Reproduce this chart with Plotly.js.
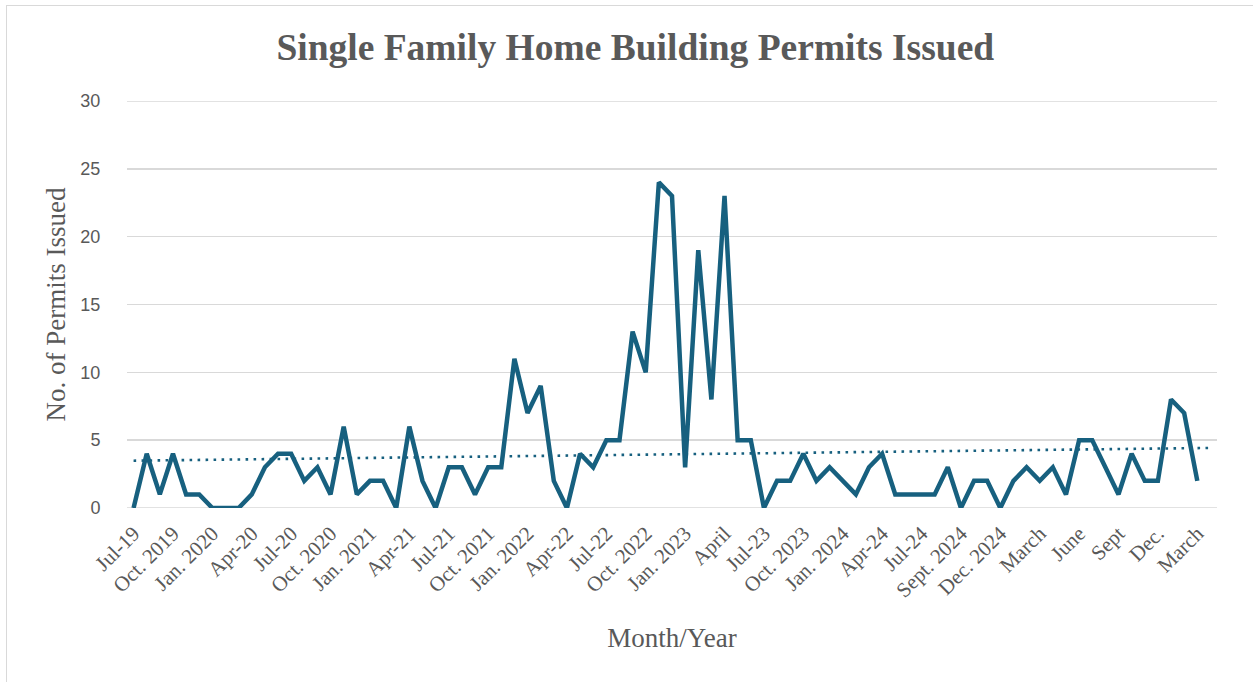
<!DOCTYPE html>
<html>
<head>
<meta charset="utf-8">
<script src="https://cdn.plot.ly/plotly-3.0.1.min.js"></script>
<style>
  html, body { margin: 0; padding: 0; background: #ffffff; }
  #wrap { position: relative; width: 1253px; height: 682px; overflow: hidden; }
  #chart { width: 1253px; height: 682px; }
  #frame { position: absolute; left: 6px; top: 5px; width: 1300px; height: 700px;
           border-left: 1.5px solid #d9d9d9; border-top: 1.5px solid #d9d9d9; pointer-events: none; }
</style>
</head>
<body>
<div id="wrap">
  <div id="chart"></div>
  <div id="frame"></div>
</div>
<script>
// Monthly single family home building permits issued (Jul 2019 onward)
const permits = [
  0, 4, 1, 4, 1, 1, 0, 0, 0, 1, 3, 4, 4, 2, 3, 1, 6, 1, 2, 2, 0, 6,
  2, 0, 3, 3, 1, 3, 3, 11, 7, 9, 2, 0, 4, 3, 5, 5, 13, 10, 24, 23, 3, 19,
  8, 23, 5, 5, 0, 2, 2, 4, 2, 3, 2, 1, 3, 4, 1, 1, 1, 1, 3, 0, 2,
  2, 0, 2, 3, 2, 3, 1, 5, 5, 3, 1, 4, 2, 2, 8, 7, 2
];

// Tick labels shown on the category axis (every third month)
const tickLabels = [
  "Jul-19", "Oct. 2019", "Jan. 2020", "Apr-20", "Jul-20", "Oct. 2020", "Jan. 2021",
  "Apr-21", "Jul-21", "Oct. 2021", "Jan. 2022", "Apr-22", "Jul-22", "Oct. 2022",
  "Jan. 2023", "April", "Jul-23", "Oct. 2023", "Jan. 2024", "Apr-24", "Jul-24",
  "Sept. 2024", "Dec. 2024", "March", "June", "Sept", "Dec.", "March"
];
const tickStep = 3;
const yMin = 0, yMax = 30;

const xIdx = permits.map((v, i) => i);
const tickVals = tickLabels.map((t, i) => i * tickStep);

// Linear trendline (least squares) over the series
const n = permits.length;
const mx = xIdx.reduce((a, b) => a + b, 0) / n;
const my = permits.reduce((a, b) => a + b, 0) / n;
let sxy = 0, sxx = 0;
for (let i = 0; i < n; i++) { sxy += (xIdx[i] - mx) * (permits[i] - my); sxx += (xIdx[i] - mx) ** 2; }
const slope = sxy / sxx;
const intercept = my - slope * mx;
const trendX = [0, n];
const trendY = trendX.map(x => intercept + slope * x);

const lineColor = "#17607f";
const textColor = "#595959";
const gridColor = "#d9d9d9";
const serif = "Liberation Serif, Times New Roman, serif";

const data = [
  {
    x: xIdx, y: permits, type: "scatter", mode: "lines",
    line: { color: lineColor, width: 4.5 },
    hoverinfo: "y", showlegend: false
  },
  {
    x: trendX, y: trendY, type: "scatter", mode: "lines",
    line: { color: lineColor, width: 2.6, dash: "2.6px,5.4px" },
    hoverinfo: "skip", showlegend: false
  }
];

// gridlines at the range ends (Plotly omits those at the plot edge)
const edgeGrid = [yMin, yMax].map(v => ({
  type: "line", xref: "paper", yref: "y", x0: 0, x1: 1, y0: v, y1: v,
  line: { color: gridColor, width: 1.5 }, layer: "below"
}));

const layout = {
  width: 1253, height: 682,
  paper_bgcolor: "#ffffff", plot_bgcolor: "#ffffff",
  margin: { l: 127, r: 36, t: 101, b: 174 },
  title: {
    text: "<b>Single Family Home Building Permits Issued</b>",
    font: { family: serif, size: 37.5, color: textColor },
    x: 0.507, xanchor: "center", xref: "container",
    y: 0.931, yanchor: "middle", yref: "container"
  },
  xaxis: {
    range: [-0.5, n + 0.5],
    tickmode: "array", tickvals: tickVals, ticktext: tickLabels,
    tickangle: -45,
    tickfont: { family: serif, size: 21, color: textColor },
    ticks: "outside", ticklen: 4, tickcolor: "rgba(0,0,0,0)",
    showgrid: false, zeroline: false, showline: false,
    title: {
      text: "Month/Year",
      font: { family: serif, size: 27, color: textColor },
      standoff: 26
    }
  },
  yaxis: {
    range: [yMin, yMax], dtick: 5, tick0: 0,
    tickfont: { family: "Liberation Sans, Arial, sans-serif", size: 18, color: textColor },
    ticks: "outside", ticklen: 22, tickcolor: "rgba(0,0,0,0)",
    showgrid: true, gridcolor: gridColor, gridwidth: 1.5,
    zeroline: false, showline: false,
    title: {
      text: "No. of Permits Issued",
      font: { family: serif, size: 27, color: textColor },
      standoff: 6
    }
  },
  shapes: edgeGrid
};

Plotly.newPlot("chart", data, layout, { displayModeBar: false, staticPlot: true });
</script>
</body>
</html>
